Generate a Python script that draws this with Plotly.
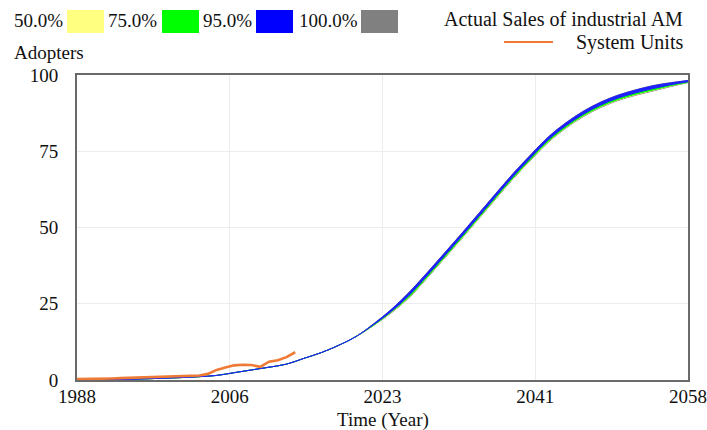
import plotly.graph_objects as go

# ---- data -------------------------------------------------------------
years = list(range(1988, 2059, 2))

# early part of the run: all sensitivity bands coincide
early = [0.0, 0.05, 0.15, 0.25, 0.4, 0.6, 0.8, 1.1, 1.5, 2.4, 3.3, 4.2, 5.2, 7.1, 9.0, 11.4, 14.3]

# sensitivity bands of Adopters (lower / upper bound of each confidence band), 2022-2058
band95_hi = early + [18.4, 23.1, 28.55, 34.75, 41.25, 47.75, 54.45, 61.15, 67.75, 73.85,
                     79.65, 84.25, 88.05, 91.05, 93.35, 95.05, 96.45, 97.4, 98.2]
band95_lo = early + [18.2, 22.5, 27.65, 33.85, 40.35, 46.85, 53.55, 60.25, 66.85, 72.95,
                     78.75, 83.35, 87.15, 90.15, 92.45, 94.15, 95.55, 96.8, 97.8]
band75_hi = early + [18.3, 22.7, 28.0, 34.2, 40.7, 47.2, 53.9, 60.6, 67.2, 73.3,
                     79.1, 83.7, 87.5, 90.5, 92.8, 94.5, 95.9, 97.0, 98.0]
band75_lo = early + [18.0, 22.3, 27.2, 33.4, 39.9, 46.4, 53.1, 59.8, 66.4, 72.5,
                     78.3, 82.9, 86.7, 89.7, 92.0, 93.7, 95.1, 96.5, 97.6]
band50_hi = early + [18.2, 22.6, 27.75, 33.95, 40.45, 46.95, 53.65, 60.35, 66.95, 73.05,
                     78.85, 83.45, 87.25, 90.25, 92.55, 94.25, 95.65, 96.85, 97.85]
band50_lo = early + [18.0, 22.2, 27.05, 33.25, 39.75, 46.25, 52.95, 59.65, 66.25, 72.35,
                     78.15, 82.75, 86.55, 89.55, 91.85, 93.55, 94.95, 96.4, 97.6]
band100_hi = early + [18.5, 23.1, 28.65, 34.85, 41.35, 47.85, 54.55, 61.25, 67.85, 73.95,
                      79.75, 84.35, 88.15, 91.15, 93.45, 95.15, 96.55, 97.5, 98.2]
band100_lo = early + [17.9, 22.0, 26.85, 33.05, 39.55, 46.05, 52.75, 59.45, 66.05, 72.15,
                      77.95, 82.55, 86.35, 89.35, 91.65, 93.35, 94.75, 96.2, 97.5]

# actual sales of industrial AM system units
sales_years = list(range(1988, 2014))
sales_units = [0.3, 0.3, 0.3, 0.4, 0.5, 0.6, 0.7, 0.8, 1.0, 1.2, 1.3, 1.3, 1.4,
               1.4, 1.5, 2.0, 3.3, 4.1, 4.8, 5.0, 4.9, 4.3, 6.0, 6.5, 7.5, 9.1]

x_tickvals = [1988, 2005.5, 2023, 2040.5, 2058]
x_ticktext = ["1988", "2006", "2023", "2041", "2058"]
y_tickvals = [0, 25, 50, 75, 100]

band_names = ["50.0%", "75.0%", "95.0%", "100.0%"]
band_colors = ["#FFFF80", "#00FF00", "#0000FF", "#808080"]

# ---- geometry helpers (pixel -> paper coordinates) --------------------
W, H = 707, 430
L, R, T, B = 77, 688, 75, 380
def px(x):
    return (x - L) / (R - L)
def py(y):
    return (B - y) / (B - T)

FONT = "Liberation Serif, Times New Roman, serif"
TXT = "#111"

fig = go.Figure()

def add_band(lo, hi, color):
    fig.add_trace(go.Scatter(x=years, y=lo, mode="lines", line=dict(color=color, width=1, shape="spline"),
                             showlegend=False, hoverinfo="skip"))
    fig.add_trace(go.Scatter(x=years, y=hi, mode="lines", line=dict(color=color, width=1, shape="spline"),
                             fill="tonexty", fillcolor=color, showlegend=False, hoverinfo="skip"))

add_band(band100_lo, band100_hi, band_colors[3])
add_band(band50_lo, band50_hi, band_colors[0])
add_band(band75_lo, band75_hi, band_colors[1])
add_band(band95_lo, band95_hi, "#2020ff")

fig.add_trace(go.Scatter(x=sales_years, y=sales_units, mode="lines",
                         line=dict(color="#EE7A35", width=2.6),
                         showlegend=False, hoverinfo="skip"))

# ---- legend keys and labels -------------------------------------------
shapes = []
annotations = []
label_left = [12, 106, 201, 297]
box_left = [67, 162, 256, 361]
for name, color, lx, bx in zip(band_names, band_colors, label_left, box_left):
    annotations.append(dict(text=name, x=px(lx), y=py(21), xref="paper", yref="paper",
                            xanchor="left", yanchor="middle", showarrow=False,
                            font=dict(family=FONT, size=19, color=TXT)))
    shapes.append(dict(type="rect", xref="paper", yref="paper",
                       x0=px(bx), x1=px(bx + 37), y0=py(33), y1=py(10),
                       fillcolor=color, line=dict(width=0)))

annotations.append(dict(text="Actual Sales of industrial AM", x=px(685), y=py(19),
                        xref="paper", yref="paper", xanchor="right", yanchor="middle",
                        showarrow=False, font=dict(family=FONT, size=20, color=TXT)))
annotations.append(dict(text="System Units", x=px(685), y=py(43),
                        xref="paper", yref="paper", xanchor="right", yanchor="middle",
                        showarrow=False, font=dict(family=FONT, size=20, color=TXT)))
shapes.append(dict(type="line", xref="paper", yref="paper",
                   x0=px(504), x1=px(553), y0=py(42), y1=py(42),
                   line=dict(color="#EE7A35", width=2)))

annotations.append(dict(text="Adopters", x=px(12), y=py(52), xref="paper", yref="paper",
                        xanchor="left", yanchor="middle", showarrow=False,
                        font=dict(family=FONT, size=19, color=TXT)))
annotations.append(dict(text="Time (Year)", x=px(383), y=py(420), xref="paper", yref="paper",
                        xanchor="center", yanchor="middle", showarrow=False,
                        font=dict(family=FONT, size=19, color=TXT)))

fig.update_layout(
    width=W, height=H,
    margin=dict(l=L, r=W - R, t=T, b=H - B, autoexpand=False),
    paper_bgcolor="white", plot_bgcolor="white",
    shapes=shapes, annotations=annotations,
    showlegend=False,
)
fig.update_xaxes(range=[1988, 2058], tickvals=x_tickvals, ticktext=x_ticktext,
                 showgrid=True, gridcolor="#ececec", gridwidth=1,
                 showline=True, linecolor="#6a6a6a", linewidth=2, mirror=True,
                 zeroline=False, ticks="", ticklabelstandoff=-2, automargin=False,
                 tickfont=dict(family=FONT, size=19, color=TXT))
fig.update_yaxes(range=[0, 100], tickvals=y_tickvals,
                 showgrid=True, gridcolor="#ececec", gridwidth=1,
                 showline=True, linecolor="#6a6a6a", linewidth=2, mirror=True,
                 zeroline=False, ticks="", ticklabelstandoff=13, automargin=False,
                 tickfont=dict(family=FONT, size=19, color=TXT))

fig.write_html("out.html")
